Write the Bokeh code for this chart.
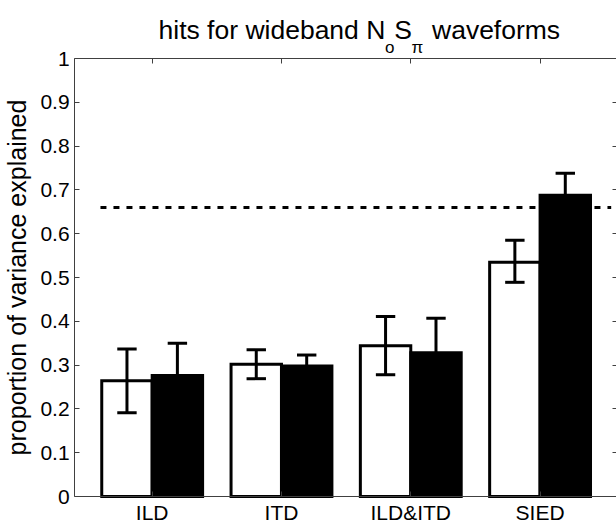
from bokeh.plotting import figure
from bokeh.models import Range1d, LinearAxis, FixedTicker, Label
from bokeh.core.properties import value
from bokeh.embed import file_html
from bokeh.resources import INLINE
import numpy as np

# ---- data ----
categories = ["ILD", "ITD", "ILD&ITD", "SIED"]
white_vals = [0.264, 0.302, 0.344, 0.535]
white_lo = [0.191, 0.269, 0.278, 0.489]
white_hi = [0.337, 0.335, 0.411, 0.585]
black_vals = [0.276, 0.298, 0.328, 0.688]
black_lo = [0.202, 0.273, 0.249, 0.638]
black_hi = [0.350, 0.323, 0.407, 0.738]
ref_level = 0.66
ref_span = [0.6, 4.55]
y_ticks = [0, 0.1, 0.2, 0.3, 0.4, 0.5, 0.6, 0.7, 0.8, 0.9, 1]
y_tick_labels = ["0", "0.1", "0.2", "0.3", "0.4", "0.5", "0.6", "0.7", "0.8", "0.9", "1"]
title_parts = ["hits for wideband N", "o", "S", "\u03c0", "waveforms"]
y_label = "proportion of variance explained"
XLIM = (0.4, 4.6)
YLIM = (0, 1)

FONT = "Liberation Sans"
AX = "#404040"

# ---- layout constants (pixels) ----
W, H = 616, 524
FB = 496                  # canvas y of the bottom box edge (y = 0)
PX_PER_Y = 438.0          # px per 1.0 on the y axis
PX_PER_X = 129.3          # px per category
BOX_LEFT_PX = 74.1        # canvas x of the left box edge (x = XLIM[0])
XR0 = XLIM[0] - BOX_LEFT_PX / PX_PER_X
XR1 = XR0 + W / PX_PER_X
YR0 = -(H - FB) / PX_PER_Y
YR1 = FB / PX_PER_Y

pos = np.arange(1, len(categories) + 1)
bar_w = 0.39
off = 0.195
cap = 0.075

p = figure(width=W, height=H, x_range=Range1d(XR0, XR1), y_range=Range1d(YR0, YR1),
           output_backend="svg", toolbar_location=None,
           min_border_left=0, min_border_right=0, min_border_top=0, min_border_bottom=0)
p.outline_line_color = None
p.grid.visible = False
p.background_fill_color = "white"
p.border_fill_color = "white"

# bottom axis at y = 0 with category labels
xa = p.xaxis[0]
xa.ticker = FixedTicker(ticks=list(pos))
xa.fixed_location = YLIM[0]
xa.bounds = XLIM
xa.major_label_overrides = {int(k): c for k, c in zip(pos, categories)}
xa.major_tick_in = 5
xa.major_tick_out = 0
xa.minor_tick_line_color = None
xa.axis_line_color = AX
xa.major_tick_line_color = AX
xa.major_label_text_font = FONT
xa.major_label_text_font_size = "21px"
xa.major_label_text_color = "black"
xa.major_label_standoff = 4

# left axis: line + inward ticks at x = XLIM[0]
ya = p.yaxis[0]
ya.ticker = FixedTicker(ticks=y_ticks)
ya.fixed_location = XLIM[0]
ya.bounds = YLIM
ya.major_label_overrides = {t: "" for t in y_ticks}
ya.major_label_text_font_size = "0px"
ya.major_label_standoff = 0
ya.major_tick_in = 5
ya.major_tick_out = 0
ya.minor_tick_line_color = None
ya.axis_line_color = AX
ya.major_tick_line_color = AX

# y tick labels
p.text(x=[XLIM[0]] * len(y_ticks), y=y_ticks, text=y_tick_labels, x_offset=-5,
       text_align="right", text_baseline="middle", text_font=value(FONT),
       text_font_size="21px", text_color="black")

# top edge of the box at y = 1, with inward ticks
ta = LinearAxis(ticker=FixedTicker(ticks=list(pos)), fixed_location=YLIM[1], bounds=XLIM,
                major_tick_in=5, major_tick_out=0,
                minor_tick_line_color=None, axis_line_color=AX, major_tick_line_color=AX,
                major_label_text_font_size="0px", major_label_standoff=0)
ta.major_label_overrides = {int(k): "" for k in pos}
p.add_layout(ta, "above")

# right edge (just beyond the canvas), inward ticks
ra = LinearAxis(ticker=FixedTicker(ticks=y_ticks), fixed_location=XLIM[1], bounds=YLIM,
                major_tick_in=5, major_tick_out=0,
                minor_tick_line_color=None, axis_line_color=AX, major_tick_line_color=AX,
                major_label_text_font_size="0px", major_label_standoff=0)
ra.major_label_overrides = {t: "" for t in y_ticks}
p.add_layout(ra, "right")

# bars
p.vbar(x=pos - off, top=white_vals, bottom=0, width=bar_w, fill_color="white",
       line_color="black", line_width=3, line_join="miter")
p.vbar(x=pos + off, top=black_vals, bottom=0, width=bar_w, fill_color="black",
       line_color="black", line_width=3, line_join="miter")

# error bars
for shift, lo, hi in ((-off, white_lo, white_hi), (off, black_lo, black_hi)):
    xc = pos + shift
    p.segment(x0=xc, y0=lo, x1=xc, y1=hi, line_color="black", line_width=3)
    p.segment(x0=xc - cap, y0=lo, x1=xc + cap, y1=lo, line_color="black", line_width=3)
    p.segment(x0=xc - cap, y0=hi, x1=xc + cap, y1=hi, line_color="black", line_width=3)

# dashed reference line
p.line(x=ref_span, y=[ref_level, ref_level], line_color="black", line_width=3, line_dash="6 7")

# canvas px -> data helpers for text placement
def cx(px):
    return XR0 + px / PX_PER_X
def cy(py):
    return (FB - py) / PX_PER_Y

# title with subscripts
main_b, sub_b = 29.3, 46.6
layout = [(158.0, main_b, "26.5px"), (384.4, sub_b, "17px"), (393.8, main_b, "26.5px"),
          (411.0, sub_b, "17px"), (431.5, main_b, "26.5px")]
for txt, (lx, ly, fs) in zip(title_parts, layout):
    p.add_layout(Label(x=cx(lx), y=cy(ly), text=txt,
                       text_font=FONT, text_font_size=fs, text_color="black",
                       text_baseline="alphabetic", text_align="left"))

# y axis title, centred on the 0..1 box
p.add_layout(Label(x=cx(16), y=(YLIM[0] + YLIM[1]) / 2, text=y_label,
                   angle=np.pi / 2, text_font=FONT, text_font_size="25px", text_color="black",
                   text_baseline="alphabetic", text_align="center"))

open("out.html", "w").write(file_html(p, INLINE))
